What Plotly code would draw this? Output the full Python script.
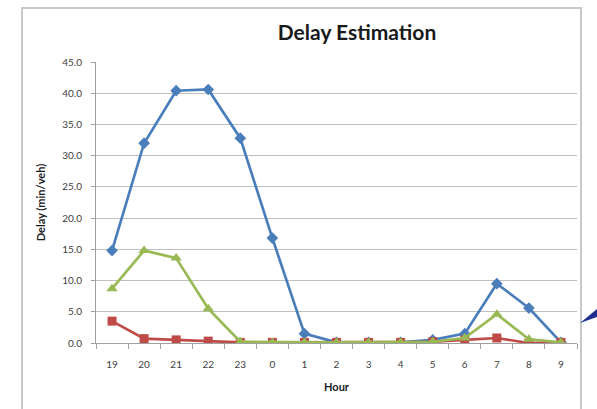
import plotly.graph_objects as go

hours = ["19", "20", "21", "22", "23", "0", "1", "2", "3", "4", "5", "6", "7", "8", "9"]
series_blue = [14.8, 32.0, 40.4, 40.6, 32.8, 16.8, 1.5, 0.1, 0.1, 0.1, 0.5, 1.5, 9.5, 5.6, 0.1]
series_red = [3.5, 0.7, 0.5, 0.3, 0.1, 0.1, 0.1, 0.1, 0.1, 0.1, 0.2, 0.5, 0.8, 0.0, 0.1]
series_green = [8.7, 14.8, 13.6, 5.5, 0.2, 0.1, 0.1, 0.1, 0.1, 0.1, 0.2, 0.8, 4.6, 0.6, 0.1]

W, H = 597, 409
ML, MR, MT, MB = 96, 597 - 577, 62, 409 - 343
PW, PH = W - ML - MR, H - MT - MB

def px(x):
    return (x - ML) / PW

def py(y):
    return (MT + PH - y) / PH

fig = go.Figure()
fig.add_trace(go.Scatter(x=hours, y=series_blue, mode="lines+markers",
                         line=dict(color="#4A7EBB", width=2.7),
                         marker=dict(symbol="diamond", size=9, color="#4A7EBB"),
                         showlegend=False))
fig.add_trace(go.Scatter(x=hours, y=series_red, mode="lines+markers",
                         line=dict(color="#BE4B48", width=2.7),
                         marker=dict(symbol="square", size=9, color="#BE4B48"),
                         showlegend=False))
fig.add_trace(go.Scatter(x=hours, y=series_green, mode="lines+markers",
                         line=dict(color="#98B954", width=2.7),
                         marker=dict(symbol="triangle-up", size=10, color="#98B954"),
                         showlegend=False))

font_family = "Lato, Open Sans, sans-serif"

fig.update_layout(
    width=W, height=H,
    margin=dict(l=ML, r=MR, t=MT, b=MB, autoexpand=False),
    paper_bgcolor="white", plot_bgcolor="white",
    title=dict(text="<b>Delay Estimation</b>", x=357 / W, xref="container",
               xanchor="center", y=1 - 33 / H, yanchor="middle",
               font=dict(family=font_family, size=21, color="#1a1a1a")),
    xaxis=dict(type="category", range=[-0.5, len(hours) - 0.5], autorange=False,
               tickson="boundaries", ticks="outside", ticklen=5,
               tickcolor="#A0A0A0", showline=True, linecolor="#A0A0A0", linewidth=1,
               showgrid=False, ticklabelstandoff=12,
               tickfont=dict(family=font_family, size=10, color="#404040"),
               title=dict(text="<b>Hour</b>", standoff=14,
                          font=dict(family=font_family, size=11, color="#1a1a1a"))),
    yaxis=dict(range=[0, 45], dtick=5, tickformat=".1f", ticks="outside", ticklen=4,
               tickcolor="#A0A0A0", showline=True, linecolor="#A0A0A0", linewidth=1,
               showgrid=True, gridcolor="#BFBFBF", gridwidth=1, zeroline=False,
               ticklabelstandoff=7,
               tickfont=dict(family=font_family, size=10, color="#404040"),
               title=dict(text="<b>Delay (min/veh)</b>", standoff=14,
                          font=dict(family=font_family, size=11, color="#1a1a1a"))),
)

# chart frame
fig.add_shape(type="rect", xref="paper", yref="paper",
              x0=px(22), x1=px(581), y0=py(440), y1=py(8),
              line=dict(color="#C8C8C8", width=2), fillcolor="rgba(0,0,0,0)", layer="below")
# decorative wedge at the right edge
fig.add_shape(type="path", xref="paper", yref="paper",
              path=f"M {px(580)} {py(323)} L {px(597)} {py(309)} L {px(597)} {py(317)} Z",
              line=dict(width=0), fillcolor="#1F2F8F")

fig.write_html("out.html",
               config={"displayModeBar": False},
               post_script="document.body.style.margin='0';document.body.style.overflow='hidden';")
